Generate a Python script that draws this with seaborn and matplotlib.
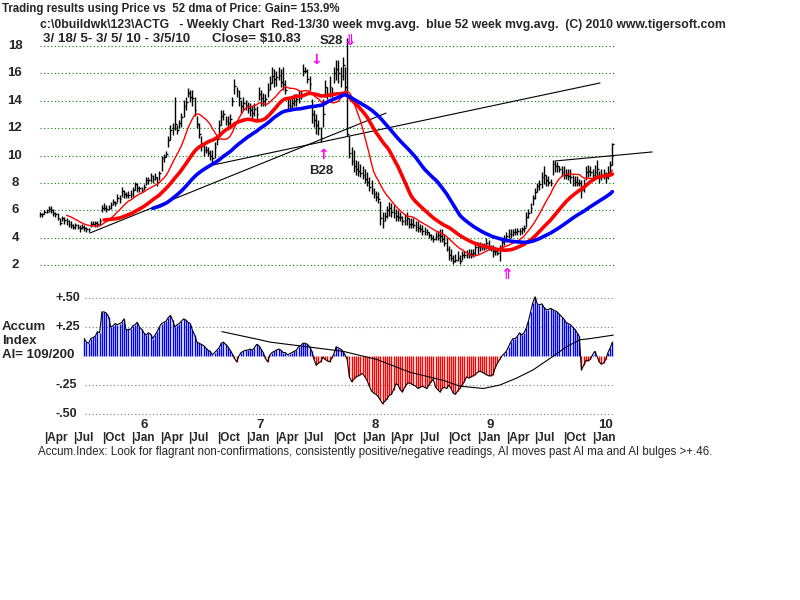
import numpy as np
import pandas as pd
import matplotlib
matplotlib.use("Agg")
import matplotlib.pyplot as plt
import matplotlib.transforms as mtransforms
import seaborn as sns

sns.set_style("white")
plt.rcParams['font.family'] = ['Liberation Sans', 'DejaVu Sans']

# weekly bars of ACTG, 3/18/05 .. 3/5/10 (week 0 = 3/18/05)
highs = [
    5.9, 5.8, 6.0, 6.1, 6.3, 6.3, 6.1, 5.9, 5.8, 5.4,
    5.6, 5.5, 5.4, 5.3, 5.2, 5.0, 5.1, 5.0, 4.9, 5.0,
    4.9, 4.8, 4.7, 5.2, 5.2, 5.2, 5.2, 5.4, 6.4, 6.5,
    6.4, 6.4, 6.6, 6.8, 6.7, 7.2, 7.1, 7.7, 7.5, 7.3,
    7.4, 7.5, 7.7, 8.1, 8.0, 7.8, 7.7, 7.9, 8.45, 8.45,
    8.7, 8.6, 8.7, 8.4, 8.9, 10.0, 10.1, 10.3, 11.4, 12.2,
    12.4, 14.3, 12.2, 12.6, 13.1, 14.05, 14.3, 14.9, 14.8, 14.8,
    14.3, 12.9, 12.4, 11.4, 10.8, 10.7, 10.6, 10.4, 10.4, 11.0,
    11.4, 12.6, 13.3, 13.3, 12.9, 12.9, 13.0, 14.3, 15.6, 15.0,
    14.8, 14.05, 14.3, 14.05, 13.9, 13.8, 13.6, 13.8, 13.6, 15.0,
    14.8, 14.6, 14.5, 15.3, 15.8, 16.5, 16.3, 16.2, 16.5, 16.3,
    16.5, 15.5, 14.3, 14.1, 14.3, 14.5, 14.5, 14.8, 14.8, 16.7,
    16.5, 16.3, 15.8, 14.1, 13.3, 13.0, 12.6, 12.1, 14.1, 15.5,
    15.0, 15.8, 15.0, 16.5, 17.0, 17.0, 16.5, 17.2, 16.5, 18.6,
    11.4, 10.6, 10.4, 9.7, 9.6, 9.4, 9.2, 9.0, 8.8, 8.4,
    8.2, 7.6, 7.4, 7.3, 6.7, 5.9, 5.9, 6.3, 6.6, 6.5,
    6.4, 6.1, 6.0, 5.9, 5.6, 5.7, 5.9, 5.4, 5.4, 5.4,
    5.2, 5.2, 5.0, 4.9, 4.8, 4.6, 4.4, 4.3, 4.2, 4.4,
    4.5, 4.6, 4.6, 4.3, 4.0, 3.4, 3.2, 2.7, 2.8, 3.0,
    2.7, 3.0, 3.0, 3.1, 3.2, 3.2, 3.2, 3.6, 3.7, 3.7,
    3.6, 3.6, 4.0, 3.8, 3.5, 3.5, 3.3, 3.2, 3.5, 4.0,
    4.2, 4.4, 4.6, 4.6, 4.6, 4.7, 4.7, 4.7, 4.8, 4.9,
    5.9, 6.1, 6.5, 7.1, 7.6, 8.0, 8.2, 8.8, 9.2, 8.6,
    8.5, 8.3, 9.7, 9.6, 9.5, 9.2, 9.2, 9.2, 9.0, 9.0,
    9.0, 8.6, 8.5, 8.5, 8.3, 8.2, 8.3, 9.2, 9.3, 9.2,
    9.0, 9.3, 9.7, 8.9, 9.0, 9.0, 8.8, 9.2, 9.6, 10.9,
]
lows = [
    5.5, 5.5, 5.7, 5.8, 5.9, 5.8, 5.6, 5.5, 5.3, 4.9,
    5.2, 5.0, 4.9, 4.8, 4.7, 4.6, 4.6, 4.6, 4.4, 4.6,
    4.5, 4.4, 4.4, 4.8, 4.9, 4.8, 4.8, 4.9, 5.9, 6.0,
    5.9, 6.0, 6.1, 6.4, 6.3, 6.6, 6.5, 7.0, 6.9, 6.9,
    6.9, 6.9, 7.0, 7.5, 7.3, 7.3, 7.3, 7.5, 7.85, 7.9,
    8.1, 8.0, 8.2, 7.8, 8.2, 8.9, 9.5, 9.9, 10.6, 11.1,
    11.5, 11.9, 11.6, 12.0, 12.1, 12.8, 13.3, 14.3, 13.9, 13.6,
    12.9, 12.0, 11.3, 10.3, 10.0, 10.2, 10.0, 9.7, 9.4, 9.8,
    10.8, 11.4, 12.2, 12.6, 12.2, 12.0, 12.2, 13.6, 14.5, 14.3,
    13.6, 13.1, 13.3, 13.3, 13.1, 12.9, 12.6, 12.9, 12.6, 14.05,
    13.6, 13.6, 13.6, 14.3, 14.8, 15.3, 15.0, 15.1, 15.5, 15.0,
    14.8, 14.5, 13.3, 13.3, 13.3, 13.6, 13.6, 13.8, 14.1, 15.8,
    16.0, 15.3, 14.8, 12.4, 12.1, 11.6, 11.5, 11.0, 12.1, 14.3,
    14.1, 14.3, 14.3, 15.3, 15.5, 15.3, 15.0, 15.5, 14.6, 11.4,
    9.8, 9.3, 8.8, 8.6, 8.5, 8.4, 8.3, 8.0, 7.8, 7.4,
    7.2, 6.9, 6.7, 6.5, 4.9, 4.7, 5.2, 5.4, 5.6, 5.5,
    5.4, 5.2, 5.2, 5.2, 4.9, 4.9, 4.9, 4.7, 4.7, 4.7,
    4.5, 4.4, 4.4, 4.2, 4.2, 4.2, 4.0, 3.8, 3.7, 3.8,
    3.8, 3.7, 3.7, 3.4, 3.0, 2.4, 2.3, 2.1, 2.2, 2.3,
    2.1, 2.4, 2.5, 2.5, 2.5, 2.5, 2.6, 2.7, 2.8, 3.0,
    3.1, 3.1, 3.2, 3.1, 3.0, 2.6, 2.7, 2.7, 2.3, 3.1,
    3.5, 3.7, 4.0, 4.0, 4.1, 4.2, 4.2, 4.2, 4.3, 4.4,
    4.8, 5.4, 5.8, 6.4, 6.8, 7.3, 7.5, 7.6, 7.9, 7.8,
    7.8, 7.8, 8.6, 8.8, 8.8, 8.8, 8.5, 8.3, 8.3, 8.2,
    8.0, 7.8, 7.8, 7.8, 7.8, 6.9, 7.3, 8.2, 8.4, 8.5,
    8.3, 8.3, 8.4, 8.0, 8.2, 8.3, 8.0, 8.3, 8.6, 9.3,
]
closes = [
    5.7, 5.7, 5.9, 5.9, 6.1, 6.0, 5.8, 5.7, 5.4, 5.1,
    5.4, 5.3, 5.2, 5.0, 4.9, 4.8, 4.9, 4.8, 4.7, 4.8,
    4.7, 4.6, 4.6, 5.0, 5.0, 5.1, 5.0, 5.2, 6.2, 6.2,
    6.1, 6.2, 6.4, 6.6, 6.5, 6.9, 6.8, 7.4, 7.2, 7.1,
    7.1, 7.2, 7.5, 7.9, 7.6, 7.6, 7.5, 7.7, 8.2, 8.2,
    8.5, 8.3, 8.4, 8.1, 8.7, 9.8, 9.9, 10.1, 11.1, 11.9,
    12.0, 12.3, 11.9, 12.4, 12.8, 13.6, 13.9, 14.6, 14.3, 14.2,
    13.3, 12.3, 11.6, 10.7, 10.4, 10.4, 10.2, 10.0, 9.8, 10.6,
    11.2, 12.2, 12.9, 13.0, 12.5, 12.4, 12.7, 14.0, 15.1, 14.7,
    14.2, 13.6, 13.8, 13.7, 13.5, 13.3, 13.1, 13.4, 13.0, 14.5,
    14.2, 14.0, 14.1, 14.8, 15.3, 15.8, 15.6, 15.7, 15.9, 15.4,
    15.2, 14.8, 13.7, 13.6, 13.8, 14.0, 14.1, 14.3, 14.5, 16.2,
    16.2, 15.6, 15.2, 13.0, 12.6, 12.2, 12.0, 11.3, 13.0, 15.0,
    14.5, 15.0, 14.6, 16.0, 16.3, 16.0, 15.8, 16.6, 15.0, 11.6,
    10.2, 9.6, 9.2, 9.0, 8.9, 8.7, 8.6, 8.3, 8.1, 7.7,
    7.5, 7.2, 7.0, 6.8, 5.4, 5.2, 5.6, 6.0, 6.2, 5.9,
    5.8, 5.6, 5.5, 5.5, 5.2, 5.3, 5.4, 5.0, 5.0, 4.9,
    4.8, 4.7, 4.6, 4.5, 4.4, 4.4, 4.2, 4.0, 3.9, 4.1,
    4.2, 4.1, 3.9, 3.6, 3.2, 2.7, 2.5, 2.3, 2.4, 2.5,
    2.3, 2.7, 2.7, 2.8, 2.8, 2.8, 2.9, 3.3, 3.3, 3.4,
    3.3, 3.3, 3.6, 3.4, 3.2, 3.0, 3.0, 2.9, 3.1, 3.7,
    3.9, 4.1, 4.3, 4.3, 4.4, 4.4, 4.5, 4.5, 4.6, 4.7,
    5.5, 5.8, 6.2, 6.9, 7.3, 7.8, 7.9, 8.4, 8.6, 8.2,
    8.1, 8.0, 9.4, 9.2, 9.2, 9.0, 8.8, 8.6, 8.6, 8.5,
    8.4, 8.2, 8.1, 8.0, 8.0, 7.5, 7.9, 8.8, 8.9, 8.8,
    8.6, 8.8, 9.0, 8.5, 8.6, 8.7, 8.4, 8.8, 9.3, 10.83,
]

# accumulation index, starts at week 20
ai_start = 20
ai_vals = [
    0.15, 0.12, 0.11, 0.15, 0.16, 0.17, 0.21, 0.20, 0.38, 0.38,
    0.37, 0.34, 0.25, 0.26, 0.28, 0.27, 0.28, 0.29, 0.32, 0.22,
    0.23, 0.23, 0.26, 0.27, 0.29, 0.25, 0.23, 0.20, 0.18, 0.20,
    0.19, 0.15, 0.18, 0.21, 0.25, 0.28, 0.29, 0.30, 0.33, 0.35,
    0.31, 0.25, 0.27, 0.28, 0.30, 0.32, 0.31, 0.29, 0.28, 0.22,
    0.18, 0.12, 0.11, 0.10, 0.09, 0.07, 0.05, 0.04, 0.01, 0.03,
    0.05, 0.07, 0.11, 0.12, 0.10, 0.08, 0.05, 0.02, -0.02, -0.05,
    0.00, 0.03, 0.04, 0.05, 0.05, 0.06, 0.05, 0.07, 0.10, 0.09,
    0.06, 0.03, -0.02, -0.05, 0.01, 0.03, 0.04, 0.05, 0.06, 0.05,
    0.03, 0.03, 0.01, 0.02, 0.03, 0.04, 0.05, 0.08, 0.09, 0.11,
    0.11, 0.10, 0.08, 0.04, -0.03, -0.08, -0.06, -0.05, -0.01, -0.03,
    -0.04, -0.05, -0.02, 0.02, 0.08, 0.07, 0.06, 0.04, 0.01, -0.03,
    -0.18, -0.22, -0.20, -0.18, -0.17, -0.16, -0.15, -0.18, -0.21, -0.26,
    -0.30, -0.32, -0.33, -0.35, -0.38, -0.41, -0.39, -0.37, -0.34, -0.33,
    -0.29, -0.24, -0.25, -0.29, -0.31, -0.27, -0.24, -0.23, -0.24, -0.25,
    -0.26, -0.28, -0.27, -0.26, -0.27, -0.28, -0.25, -0.22, -0.20, -0.27,
    -0.29, -0.31, -0.28, -0.27, -0.28, -0.25, -0.28, -0.32, -0.33, -0.30,
    -0.28, -0.25, -0.22, -0.18, -0.19, -0.18, -0.17, -0.16, -0.14, -0.13,
    -0.14, -0.15, -0.16, -0.17, -0.17, -0.16, -0.10, -0.06, -0.03, 0.00,
    0.02, 0.04, 0.08, 0.12, 0.15, 0.15, 0.17, 0.20, 0.18, 0.20,
    0.24, 0.30, 0.38, 0.46, 0.51, 0.45, 0.44, 0.45, 0.42, 0.40,
    0.40, 0.41, 0.40, 0.39, 0.38, 0.36, 0.34, 0.32, 0.29, 0.28,
    0.27, 0.25, 0.23, 0.20, 0.17, -0.12, -0.08, -0.04, -0.04, -0.03,
    0.01, 0.04, 0.00, -0.05, -0.07, -0.06, -0.03, 0.03, 0.07, 0.12,
]
# AI moving average (black line), read as points
ai_ma_weeks = [82.3, 99.5, 104, 137.2, 152.4, 167.4, 182.5, 190, 200.6,
               208.1, 215.7, 223.1, 230.8, 238.3, 244.3, 248.9, 259.4]
ai_ma_vals = [0.21, 0.14, 0.12, 0.04, -0.03, -0.14, -0.21, -0.26, -0.28,
              -0.25, -0.19, -0.12, -0.02, 0.08, 0.14, 0.15, 0.18]

# black trend lines (week, price)
trend_lines = [
    ([22.6, 156.6], [4.34, 13.1]),
    ([78.3, 253.4], [9.31, 15.3]),
    ([233.0, 277.0], [9.6, 10.26]),
]

price_ticks = [2, 4, 6, 8, 10, 12, 14, 16, 18]
ai_ticks = [0.5, 0.25, -0.25, -0.5]
ai_tick_labels = ["+.50", "+.25", "-.25", "-.50"]

month_names = ["Apr", "Jul", "Oct", "Jan"] * 5
month_dates = ["2005-04-01", "2005-07-01", "2005-10-01", "2006-01-01",
               "2006-04-01", "2006-07-01", "2006-10-01", "2007-01-01",
               "2007-04-01", "2007-07-01", "2007-10-01", "2008-01-01",
               "2008-04-01", "2008-07-01", "2008-10-01", "2009-01-01",
               "2009-04-01", "2009-07-01", "2009-10-01", "2010-01-01"]
year_labels = ["6", "7", "8", "9", "10"]
start_date = pd.Timestamp("2005-03-18")


# pixel helpers for an 800x600 canvas
def wk(px):
    return (px - 40) / 2.21


def pr(py):
    return 18 - (py - 46) / 13.69


def av(py):
    return (356 - py) / 116.0


fig = plt.figure(figsize=(8, 6), dpi=100)
fig.patch.set_facecolor("white")


def ftext(px, py, s, **kw):
    fig.text(px / 800, 1 - py / 600, s, **kw)


ax = fig.add_axes([35 / 800, 1 - 280 / 600, 625 / 800, 250 / 600])
ax2 = fig.add_axes([35 / 800, 1 - 420 / 600, 625 / 800, 130 / 600])

weeks = np.arange(len(closes))
df = pd.DataFrame({"week": weeks, "high": highs, "low": lows, "close": closes})
df["ma13"] = df["close"].rolling(13).mean()
df["ma30"] = df["close"].rolling(30).mean()
df["ma52"] = df["close"].rolling(52).mean()

# dotted green price grid
for v in price_ticks:
    ax.hlines(v, 0, len(closes), colors="#008000", linestyles=(0, (1, 2.2)), lw=0.8)
trans = mtransforms.blended_transform_factory(fig.transFigure, ax.transData)
for v in price_ticks:
    ax.text(15 / 800, v, str(v), transform=trans, ha="center", va="center",
            fontsize=9.5, fontweight="bold")

# weekly bars
ax.vlines(df["week"], df["low"], df["high"], colors="black", lw=1)
ax.hlines(df["close"], df["week"], df["week"] + 0.8, colors="black", lw=1)

# trend lines
for xs, ys in trend_lines:
    ax.plot(xs, ys, color="black", lw=0.8)

# moving averages
sns.lineplot(data=df.dropna(subset=["ma13"]), x="week", y="ma13", ax=ax,
             color="red", lw=1, estimator=None, errorbar=None)
sns.lineplot(data=df.dropna(subset=["ma30"]), x="week", y="ma30", ax=ax,
             color="red", lw=2.6, estimator=None, errorbar=None)
sns.lineplot(data=df.dropna(subset=["ma52"]), x="week", y="ma52", ax=ax,
             color="blue", lw=2.6, estimator=None, errorbar=None)
ax.set_xlim(wk(35), wk(660))
ax.set_ylim(pr(280), pr(30))
ax.axis("off")

# signal arrows
mag = "#ff00ff"
ftext(331, 41, "S28", ha="center", va="center", fontsize=9.5, fontweight="bold")
ftext(349, 40, "\u21d3", ha="center", va="center", fontsize=11, color=mag,
      fontweight="bold", family="DejaVu Sans")
ftext(316, 60, "\u2193", ha="center", va="center", fontsize=10, color=mag,
      fontweight="bold", family="DejaVu Sans")
ftext(323, 155, "\u2191", ha="center", va="center", fontsize=10, color=mag,
      fontweight="bold", family="DejaVu Sans")
ftext(321, 171, "B28", ha="center", va="center", fontsize=9.5, fontweight="bold")
ftext(506, 275, "\u21d1", ha="center", va="center", fontsize=11, color=mag,
      fontweight="bold", family="DejaVu Sans")

# accumulation index panel
ai_weeks = np.arange(ai_start, ai_start + len(ai_vals))
ai_df = pd.DataFrame({"week": ai_weeks, "ai": ai_vals})
for v in ai_ticks:
    ax2.hlines(v, wk(85), len(closes), colors="#808080",
               linestyles=(0, (1, 2.2)), lw=0.8)
bar_colors = ["blue" if v > 0 else "red" for v in ai_vals]
ax2.vlines(ai_df["week"], 0, ai_df["ai"], colors=bar_colors, lw=1)
sns.lineplot(data=ai_df, x="week", y="ai", ax=ax2, color="black", lw=0.8,
             estimator=None, errorbar=None)
sns.lineplot(x=ai_ma_weeks, y=ai_ma_vals, ax=ax2, color="black", lw=0.8,
             estimator=None, errorbar=None)
ax2.set_xlim(wk(35), wk(660))
ax2.set_ylim(av(420), av(290))
ax2.axis("off")
for v, lab in zip(ai_ticks, ai_tick_labels):
    ax2.text(wk(55), v, lab, ha="left", va="center", fontsize=9, fontweight="bold")

ftext(2, 327, "Accum", ha="left", va="center", fontsize=9.5, fontweight="bold")
ftext(2, 341, "Index", ha="left", va="center", fontsize=9.5, fontweight="bold")
ftext(2, 355, "AI= 109/200", ha="left", va="center", fontsize=9.5, fontweight="bold")

# date axis labels
for name, d in zip(month_names, month_dates):
    w = (pd.Timestamp(d) - start_date).days / 7.0
    ax2.text(w, av(438), "|" + name, ha="left", va="center", fontsize=8.5,
             fontweight="bold")
jan_dates = [d for n, d in zip(month_names, month_dates) if n == "Jan"]
for lab, d in zip(year_labels, jan_dates):
    w = (pd.Timestamp(d) - start_date).days / 7.0
    ax2.text(w + 6, av(425), lab, ha="center", va="center", fontsize=9.5,
             fontweight="bold")

# header text
ftext(2, 9, "Trading results using Price vs  52 dma of Price: Gain= 153.9%",
      ha="left", va="center", fontsize=8.3, fontweight="bold")
ftext(40, 25, "c:\\0buildwk\\123\\ACTG   - Weekly Chart  Red-13/30 week mvg.avg.  "
      "blue 52 week mvg.avg.  (C) 2010 www.tigersoft.com",
      ha="left", va="center", fontsize=8.85, fontweight="bold")
ftext(43, 39, "3/ 18/ 5- 3/ 5/ 10 - 3/5/10",
      ha="left", va="center", fontsize=9.6, fontweight="bold")
ftext(212, 39, "Close= $10.83",
      ha="left", va="center", fontsize=9.6, fontweight="bold")
ftext(38, 452, "Accum.Index: Look for flagrant non-confirmations, consistently "
      "positive/negative readings, AI moves past AI ma and AI bulges >+.46.",
      ha="left", va="center", fontsize=8.3)

fig.savefig("out.png", dpi=100, facecolor="white")
